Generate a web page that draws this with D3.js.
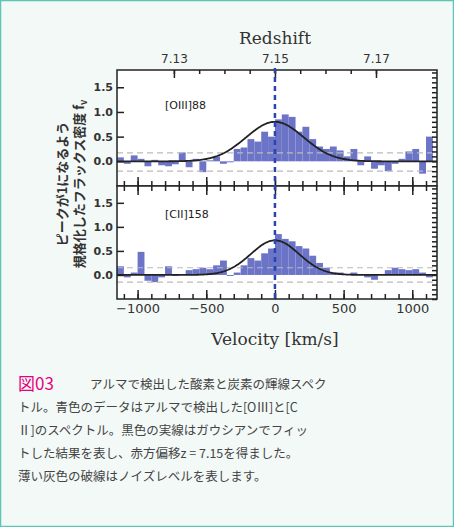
<!DOCTYPE html>
<html><head><meta charset="utf-8">
<script src="https://cdn.jsdelivr.net/npm/d3@7"></script>
<style>
body{margin:0;background:#fff;}
svg{display:block;}
</style></head>
<body><svg width="454" height="527"></svg>
<script>
// bins of 50 km/s, left edge from -1150 (index 23 = 0..50 km/s)
var binStart = -1150, binWidth = 50;
var oiii = [0.08,-0.05,0.12,0.05,-0.1,0.03,-0.08,-0.1,-0.06,0.18,-0.12,0.05,-0.22,0.02,0.1,-0.05,-0.02,0.25,0.28,0.45,0.4,0.6,0.5,0.85,0.95,0.9,0.6,0.7,0.45,0.3,0.25,0.3,0.22,0.1,0.25,-0.08,0.1,-0.15,-0.08,-0.2,-0.05,0.05,0.2,0.25,-0.25,0.5];
var cii = [0.18,-0.05,0.05,0.48,-0.12,-0.15,-0.05,0.18,-0.02,0.0,0.1,0.12,0.15,0.12,0.2,0.3,-0.02,0.05,0.2,0.35,0.3,0.45,0.55,0.85,0.75,0.7,0.6,0.55,0.4,0.25,0.15,0.05,0.05,0.0,0.05,0.02,-0.05,-0.1,0.0,0.1,0.15,0.12,0.1,0.12,0.05,-0.05];
var panels = [
  {label:"[OIII]88", data:oiii, peak:0.8, sigma:210, noise:[0.17,-0.2]},
  {label:"[CII]158", data:cii, peak:0.72, sigma:175, noise:[0.15,-0.15]}
];
var zTicks = [7.13,7.15,7.17];
var vTicks = [-1000,-500,0,500,1000];
var yTicks = [0,0.5,1.0,1.5];
var zCenter = 7.15, cLight = 299792;

var svg = d3.select("svg");
svg.append("rect").attr("x",0.5).attr("y",0.5).attr("width",453).attr("height",526)
  .attr("fill","#f3f9f7").attr("stroke","#5cc4b8").attr("stroke-width",1.5);

var pLeft = 117, pRight = 437, pTop = 70, pMid = 186, pBottom = 299;
var x = d3.scaleLinear().domain([-1150,1180]).range([pLeft,pRight]);
var zToV = function(z){ return cLight*(z-zCenter)/(1+zCenter); };
var styleTicks = function(a){a.select(".domain").remove(); a.selectAll("line").attr("stroke","#222").attr("stroke-width",1.5);};

panels.forEach(function(p,i){
  var y0 = i===0 ? pTop : pMid, y1 = i===0 ? pMid : pBottom;
  var y = d3.scaleLinear().domain([-0.5,1.85]).range([y1,y0]);
  var g = svg.append("g");
  g.append("rect").attr("x",pLeft).attr("y",y0).attr("width",pRight-pLeft).attr("height",y1-y0).attr("fill","#fff");
  g.selectAll("rect.bar").data(p.data).enter().append("rect")
    .attr("x",function(d,k){return x(binStart+k*binWidth);})
    .attr("width",x(binWidth)-x(0))
    .attr("y",function(d){return y(Math.max(d,0));})
    .attr("height",function(d){return Math.abs(y(d)-y(0));})
    .attr("fill","#6c74c8");
  p.noise.forEach(function(n){
    g.append("line").attr("x1",pLeft).attr("x2",pRight).attr("y1",y(n)).attr("y2",y(n))
      .attr("stroke","#bbb").attr("stroke-dasharray","6,4").attr("stroke-width",1.2);
  });
  var vs = d3.range(-1150,1181,10);
  g.append("path").datum(vs)
    .attr("d",d3.line().x(function(v){return x(v);}).y(function(v){return y(p.peak*Math.exp(-v*v/(2*p.sigma*p.sigma)));}))
    .attr("fill","none").attr("stroke","#222").attr("stroke-width",1.8);
  g.append("text").attr("x",x(-800)).attr("y",y(i===0?1.05:1.18)).text(p.label)
    .attr("font-family","DejaVu Sans").attr("font-size",11).attr("fill","#222");
  var ya = g.append("g").attr("transform","translate("+pLeft+",0)")
    .call(d3.axisLeft(y).tickValues(yTicks).tickFormat(d3.format(".1f")).tickSize(-7).tickPadding(4));
  ya.selectAll("text").attr("font-family","DejaVu Sans").attr("font-size",11).attr("font-weight","bold").attr("fill","#333");
  g.append("g").attr("transform","translate("+pRight+",0)")
    .call(d3.axisLeft(y).ticks(24).tickSize(5).tickFormat(""));
  g.append("g").attr("transform","translate(0,"+y1+")")
    .call(d3.axisTop(x).ticks(24).tickSize(5).tickFormat(""));
  g.append("g").attr("transform","translate(0,"+y1+")")
    .call(d3.axisTop(x).tickValues(vTicks).tickSize(9).tickFormat(""));
  g.append("rect").attr("x",pLeft).attr("y",y0).attr("width",pRight-pLeft).attr("height",y1-y0)
    .attr("fill","none").attr("stroke","#222").attr("stroke-width",1.5);
  g.selectAll(".domain").attr("stroke","none");
  g.selectAll(".tick line").attr("stroke","#222").attr("stroke-width",1.5);
});
svg.append("g").attr("transform","translate(0,"+pMid+")")
  .call(d3.axisBottom(x).ticks(24).tickSize(5).tickFormat("")).call(styleTicks);
svg.append("g").attr("transform","translate(0,"+pMid+")")
  .call(d3.axisBottom(x).tickValues(vTicks).tickSize(9).tickFormat("")).call(styleTicks);
// redshift top axis
var zx = d3.scaleLinear().domain([7.13,7.17]).range([x(zToV(7.13)),x(zToV(7.17))]);
svg.append("g").attr("transform","translate(0,"+pTop+")")
  .call(d3.axisBottom(zx).ticks(8).tickSize(4).tickFormat("")).call(styleTicks);
var za = svg.append("g").attr("transform","translate(0,"+pTop+")")
  .call(d3.axisBottom(zx).tickValues(zTicks).tickSize(8).tickFormat(d3.format(".2f"))).call(styleTicks);
za.selectAll("text").attr("y",-16).attr("font-family","DejaVu Sans").attr("font-size",12).attr("fill","#333");
svg.append("text").attr("x",275).attr("y",44).attr("text-anchor","middle").text("Redshift")
  .attr("font-family","DejaVu Serif").attr("font-size",17).attr("fill","#333");
// bottom velocity axis
var va = svg.append("g").attr("transform","translate(0,"+pBottom+")")
  .call(d3.axisBottom(x).tickValues(vTicks).tickSize(0).tickPadding(5).tickFormat(function(d){return d<0?"\u2212"+(-d):d;}));
va.select(".domain").remove();
va.selectAll("text").attr("font-family","DejaVu Sans").attr("font-size",13).attr("fill","#333");
svg.append("text").attr("x",275).attr("y",345).attr("text-anchor","middle").text("Velocity [km/s]")
  .attr("font-family","DejaVu Serif").attr("font-size",17).attr("fill","#333");
svg.append("line").attr("x1",x(0)).attr("x2",x(0)).attr("y1",pTop-2).attr("y2",pBottom)
  .attr("stroke","#2845b0").attr("stroke-width",2.5).attr("stroke-dasharray","5,4");
// y label
var yl = svg.append("text").attr("transform","translate(70,184) rotate(-90)").attr("text-anchor","middle")
  .attr("font-family","Noto Sans CJK JP").attr("font-size",13).attr("font-weight","bold").attr("fill","#333");
yl.append("tspan").attr("x",0).attr("dy",-3).text("ピークが1になるよう");
yl.append("tspan").attr("x",0).attr("dy",17).text("規格化したフラックス密度 f");
yl.append("tspan").attr("font-size",9).attr("dy",3).text("ν");
// caption
var cap = ["アルマで検出した酸素と炭素の輝線スペク","トル。青色のデータはアルマで検出した[OⅢ]と[C","Ⅱ]のスペクトル。黒色の実線はガウシアンでフィッ","トした結果を表し、赤方偏移z = 7.15を得ました。","薄い灰色の破線はノイズレベルを表します。"];
var ct = svg.append("g").attr("font-family","Noto Sans CJK JP").attr("font-size",12.5).attr("fill","#444");
ct.append("text").attr("x",18).attr("y",390).text("図03").attr("fill","#e6007e").attr("font-size",17);
cap.forEach(function(c,k){
  ct.append("text").attr("x",k===0?90:18).attr("y",389+k*23).text(c);
});
</script></body></html>
